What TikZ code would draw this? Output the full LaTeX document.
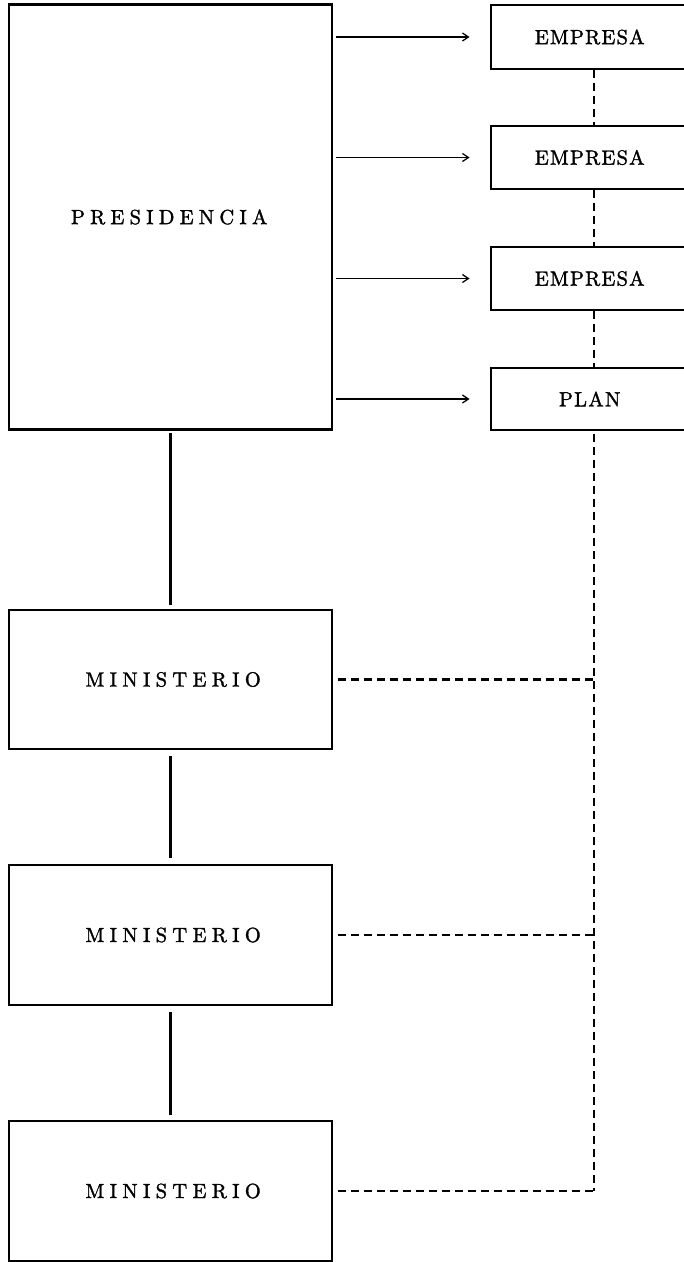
\documentclass[tikz,border=0pt]{standalone}
\usepackage{fontspec}
\setmainfont{lmroman10-regular.otf}
\usetikzlibrary{arrows.meta}
% letter-spaced labels: a gap around every letter
\newlength\letgap
\def\spacedaux#1{\ifx#1\relax\else#1\hskip\letgap\expandafter\spacedaux\fi}
\newcommand\spaced[2]{{\setlength\letgap{#1}\hskip0.5\letgap\spacedaux#2\relax\hskip-0.5\letgap}}
\begin{document}
\begin{tikzpicture}[x=1pt,y=-1pt,
  box/.style={draw, line width=2.8pt, inner sep=0pt,
    font=\fontsize{20.5}{22}\selectfont\addfontfeature{FakeBold=1.5}},
  bigbox/.style={box, minimum width=323pt},
  smallbox/.style={box, minimum width=198pt},
  solidlink/.style={line width=2.3pt},
  dashlink/.style={line width=2.3pt, dash pattern=on 8pt off 5pt},
  feed/.style={line width=1.3pt, -{Straight Barb[length=6pt,width=8pt]}}
]
\useasboundingbox (0,0) rectangle (684,1262);
\clip (0,0) rectangle (684,1262);

% executive and its dependent units
\node[bigbox, minimum height=425pt] (pres) at (170.5,217) {\spaced{5.2pt}{PRESIDENCIA}};
\node[smallbox, minimum height=64pt] (e1) at (590,37) {\spaced{1.2pt}{EMPRESA}};
\node[smallbox, minimum height=63pt] (e2) at (590,157.5) {\spaced{1.2pt}{EMPRESA}};
\node[smallbox, minimum height=63pt] (e3) at (590,278.5) {\spaced{1.2pt}{EMPRESA}};
\node[smallbox, minimum height=62pt] (plan) at (590,399) {\spaced{1.3pt}{PLAN}};

% ministries
\node[bigbox, minimum height=139pt] (m1) at (170.5,679.5) {\hspace*{8pt}\spaced{5.3pt}{MINISTERIO}};
\node[bigbox, minimum height=140pt] (m2) at (170.5,935) {\hspace*{8pt}\spaced{5.3pt}{MINISTERIO}};
\node[bigbox, minimum height=140pt] (m3) at (170.5,1191) {\hspace*{8pt}\spaced{5.3pt}{MINISTERIO}};

% vertical dashed spine on the right
\coordinate (spine) at (594,0);

% arrows from the presidency
\draw[feed] ([xshift=3pt]pres.east |- e1.west) -- ([xshift=-20pt]e1.west);
\draw[feed] ([xshift=3pt]pres.east |- e2.west) -- ([xshift=-20pt]e2.west);
\draw[feed] ([xshift=3pt]pres.east |- e3.west) -- ([xshift=-20pt]e3.west);
\draw[feed] ([xshift=3pt]pres.east |- plan.west) -- ([xshift=-20pt]plan.west);

% dashed links among the right-hand units
\draw[dashlink] (e1.south -| spine) -- (e2.north -| spine);
\draw[dashlink] (e2.south -| spine) -- (e3.north -| spine);
\draw[dashlink] (e3.south -| spine) -- (plan.north -| spine);
\draw[dashlink] ([yshift=-3pt]plan.south -| spine) -- (m3.east -| spine);

% dashed links from the ministries
\draw[dashlink] ([xshift=5pt]m1.east) -- (m1.east -| spine);
\draw[dashlink] ([xshift=5pt]m2.east) -- (m2.east -| spine);
\draw[dashlink] ([xshift=5pt]m3.east) -- (m3.east -| spine);

% hierarchy
\draw[solidlink, shorten <=2pt, shorten >=4pt] (pres.south) -- (m1.north);
\draw[solidlink, shorten <=6pt, shorten >=6pt] (m1.south) -- (m2.north);
\draw[solidlink, shorten <=6pt, shorten >=5pt] (m2.south) -- (m3.north);
\end{tikzpicture}
\end{document}
